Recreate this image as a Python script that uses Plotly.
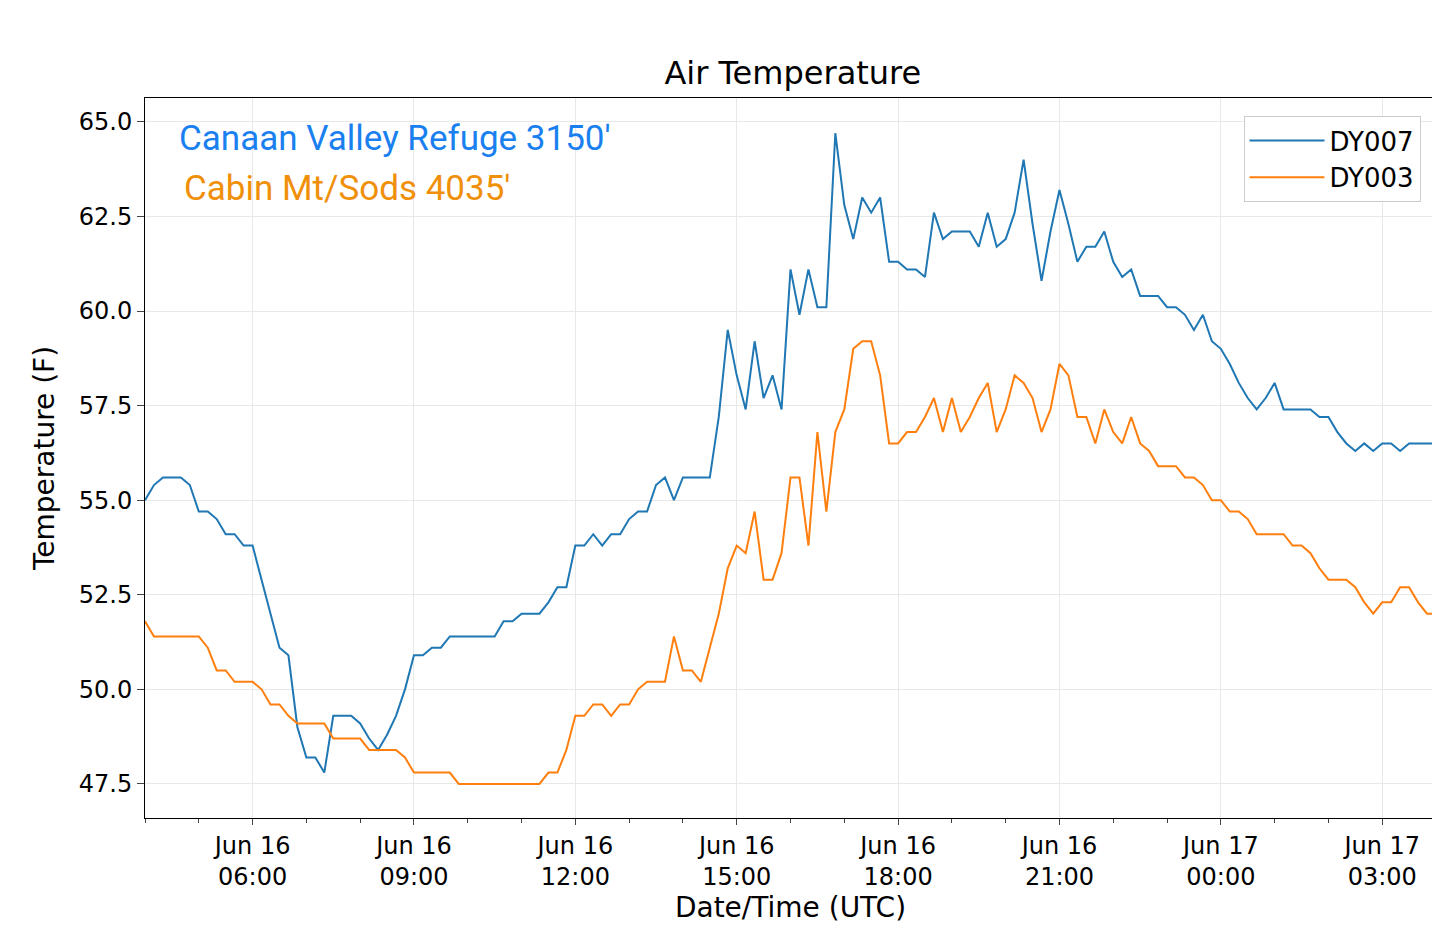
import pandas as pd
import plotly.graph_objects as go

times = pd.date_range("2019-06-16 04:00", periods=145, freq="10min")

dy007 = [55.0, 55.4, 55.6, 55.6, 55.6, 55.4, 54.7, 54.7, 54.5, 54.1,
         54.1, 53.8, 53.8, 52.9, 52.0, 51.1, 50.9, 49.0, 48.2, 48.2,
         47.8, 49.3, 49.3, 49.3, 49.1, 48.7, 48.4, 48.8, 49.3, 50.0,
         50.9, 50.9, 51.1, 51.1, 51.4, 51.4, 51.4, 51.4, 51.4, 51.4,
         51.8, 51.8, 52.0, 52.0, 52.0, 52.3, 52.7, 52.7, 53.8, 53.8,
         54.1, 53.8, 54.1, 54.1, 54.5, 54.7, 54.7, 55.4, 55.6, 55.0,
         55.6, 55.6, 55.6, 55.6, 57.2, 59.5, 58.3, 57.4, 59.2, 57.7,
         58.3, 57.4, 61.1, 59.9, 61.1, 60.1, 60.1, 64.7, 62.8, 61.9,
         63.0, 62.6, 63.0, 61.3, 61.3, 61.1, 61.1, 60.9, 62.6, 61.9,
         62.1, 62.1, 62.1, 61.7, 62.6, 61.7, 61.9, 62.6, 64.0, 62.3,
         60.8, 62.1, 63.2, 62.3, 61.3, 61.7, 61.7, 62.1, 61.3, 60.9,
         61.1, 60.4, 60.4, 60.4, 60.1, 60.1, 59.9, 59.5, 59.9, 59.2,
         59.0, 58.6, 58.1, 57.7, 57.4, 57.7, 58.1, 57.4, 57.4, 57.4,
         57.4, 57.2, 57.2, 56.8, 56.5, 56.3, 56.5, 56.3, 56.5, 56.5,
         56.3, 56.5, 56.5, 56.5, 56.5]

dy003 = [51.8, 51.4, 51.4, 51.4, 51.4, 51.4, 51.4, 51.1, 50.5, 50.5,
         50.2, 50.2, 50.2, 50.0, 49.6, 49.6, 49.3, 49.1, 49.1, 49.1,
         49.1, 48.7, 48.7, 48.7, 48.7, 48.4, 48.4, 48.4, 48.4, 48.2,
         47.8, 47.8, 47.8, 47.8, 47.8, 47.5, 47.5, 47.5, 47.5, 47.5,
         47.5, 47.5, 47.5, 47.5, 47.5, 47.8, 47.8, 48.4, 49.3, 49.3,
         49.6, 49.6, 49.3, 49.6, 49.6, 50.0, 50.2, 50.2, 50.2, 51.4,
         50.5, 50.5, 50.2, 51.1, 52.0, 53.2, 53.8, 53.6, 54.7, 52.9,
         52.9, 53.6, 55.6, 55.6, 53.8, 56.8, 54.7, 56.8, 57.4, 59.0,
         59.2, 59.2, 58.3, 56.5, 56.5, 56.8, 56.8, 57.2, 57.7, 56.8,
         57.7, 56.8, 57.2, 57.7, 58.1, 56.8, 57.4, 58.3, 58.1, 57.7,
         56.8, 57.4, 58.6, 58.3, 57.2, 57.2, 56.5, 57.4, 56.8, 56.5,
         57.2, 56.5, 56.3, 55.9, 55.9, 55.9, 55.6, 55.6, 55.4, 55.0,
         55.0, 54.7, 54.7, 54.5, 54.1, 54.1, 54.1, 54.1, 53.8, 53.8,
         53.6, 53.2, 52.9, 52.9, 52.9, 52.7, 52.3, 52.0, 52.3, 52.3,
         52.7, 52.7, 52.3, 52.0, 52.0]

tick_vals = pd.date_range("2019-06-16 06:00", periods=8, freq="3h")
tick_text = [t.strftime("%b %d<br>%H:%M") for t in tick_vals]
y_ticks = [47.5, 50.0, 52.5, 55.0, 57.5, 60.0, 62.5, 65.0]

fig = go.Figure()
fig.add_trace(go.Scatter(x=times, y=dy007, mode="lines", name="DY007",
                         line=dict(color="#1f77b4", width=2)))
fig.add_trace(go.Scatter(x=times, y=dy003, mode="lines", name="DY003",
                         line=dict(color="#ff7f0e", width=2)))

fig.add_annotation(x=0.025, y=0.975, xref="paper", yref="paper", xanchor="left", yanchor="top",
                   text="Canaan Valley Refuge 3150'", showarrow=False,
                   font=dict(family="Roboto", size=35, color="#1a80f0"))
fig.add_annotation(x=0.029, y=0.905, xref="paper", yref="paper", xanchor="left", yanchor="top",
                   text="Cabin Mt/Sods 4035'", showarrow=False,
                   font=dict(family="Roboto", size=35, color="#f0900a"))

fig.update_layout(
    width=1440, height=946,
    paper_bgcolor="white", plot_bgcolor="white",
    font=dict(family="DejaVu Sans", size=24, color="black"),
    title=dict(text="Air Temperature", x=0.545, xanchor="center", y=0.92, yanchor="bottom",
               font=dict(size=32)),
    margin=dict(l=137, r=12, t=90, b=136, autoexpand=False),
    legend=dict(x=0.988, y=0.975, xanchor="right", yanchor="top", itemwidth=75,
                bordercolor="#cccccc", borderwidth=1, font=dict(size=26),
                tracegroupgap=4),
    xaxis=dict(range=[times[0], times[-1]], tickvals=tick_vals, ticktext=tick_text,
               showline=True, linecolor="black", mirror=True, ticks="outside",
               ticklen=6, gridcolor="#e8e8e8", automargin=False,
               minor=dict(dtick=3600000, ticks="outside", ticklen=4, showgrid=False),
               title=dict(text="Date/Time (UTC)", font=dict(size=28), standoff=4)),
    yaxis=dict(range=[46.6, 65.63], tickvals=y_ticks, tickformat=".1f",
               showline=True, linecolor="black", mirror=True, ticks="outside",
               ticklen=7, gridcolor="#e8e8e8", automargin=False,
               title=dict(text="Temperature (F)", font=dict(size=28))),
)

fig.write_html("out.html")
